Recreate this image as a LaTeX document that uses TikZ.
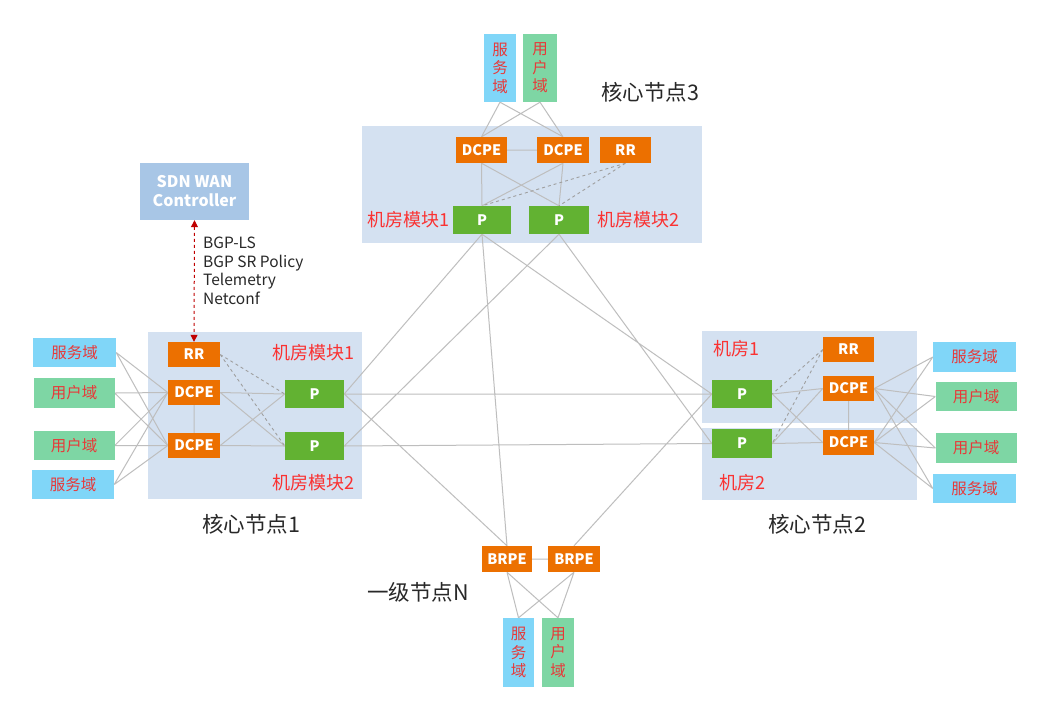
\documentclass[tikz,border=0pt]{standalone}
\usepackage{fontspec}
\setmainfont{Noto Sans CJK SC}
\usetikzlibrary{arrows.meta}
\definecolor{orangebox}{RGB}{236,112,0}
\definecolor{greenbox}{RGB}{98,178,50}
\definecolor{svcblue}{RGB}{128,214,248}
\definecolor{usrgreen}{RGB}{126,214,164}
\definecolor{domtext}{RGB}{232,56,56}
\definecolor{labred}{RGB}{250,50,50}
\definecolor{bgblue}{RGB}{212,225,241}
\definecolor{ctlblue}{RGB}{168,198,230}
\definecolor{linegray}{RGB}{190,190,190}
\definecolor{arrowred}{RGB}{192,0,0}
\definecolor{txtdark}{RGB}{40,40,40}
\pgfdeclarelayer{back}
\pgfdeclarelayer{lines}
\pgfsetlayers{back,lines,main}
\begin{document}
\begin{tikzpicture}[x=1pt,y=-1pt,
  dev/.style={inner sep=0pt,text=white,font=\bfseries\fontsize{14.5}{16}\selectfont},
  orng/.style={dev,fill=orangebox,minimum width=51pt,minimum height=26pt},
  pbox/.style={dev,fill=greenbox,minimum width=59pt,minimum height=28pt},
  svc/.style={inner sep=0pt,fill=svcblue,text=domtext,minimum width=82pt,minimum height=29pt,font=\fontsize{15.5}{17}\selectfont},
  usr/.style={svc,fill=usrgreen},
  vsvc/.style={svc,minimum width=32pt,minimum height=68pt,align=center,font=\fontsize{15.5}{18.5}\selectfont},
  vusr/.style={vsvc,fill=usrgreen},
  bg/.style={fill=bgblue,draw=none},
  redlab/.style={text=labred,inner sep=0pt,font=\fontsize{18}{20}\selectfont},
  biglab/.style={text=txtdark,inner sep=0pt,font=\fontsize{21.5}{23}\selectfont},
  ln/.style={draw=linegray,line width=1pt},
  dln/.style={draw=gray!75,line width=0.9pt,dashed}
]
\useasboundingbox (0,0) rectangle (1040,705);
\begin{pgfonlayer}{back}
\fill[white] (0,0) rectangle (1040,705);
\fill[bg] (362,126) rectangle (702,243);
\fill[bg] (148,332) rectangle (362,499);
\fill[bg] (702,331) rectangle (917,423);
\fill[bg] (702,428) rectangle (917,500);
\end{pgfonlayer}

% controller
\node[inner sep=0pt,fill=ctlblue,minimum width=109pt,minimum height=57pt,align=center,text=white,font=\bfseries\fontsize{16}{19}\selectfont] (ctl) at (194.5,191.5) {SDN WAN\\Controller};
\node[anchor=north west,inner sep=0pt,align=left,text=txtdark,font=\fontsize{15.5}{18.5}\selectfont] (proto) at (203,237) {BGP-LS\\BGP SR Policy\\Telemetry\\Netconf};

% core 3
\node[vsvc] (svcT) at (500,68) {服\\务\\域};
\node[vusr,minimum width=34pt] (usrT) at (540,68) {用\\户\\域};
\node[orng] (dc3a) at (481.5,150) {DCPE};
\node[orng,minimum width=52pt] (dc3b) at (563,150) {DCPE};
\node[orng] (rr3) at (625.5,150) {RR};
\node[pbox,minimum width=58pt] (p3a) at (482,220) {P};
\node[pbox,minimum width=60pt] (p3b) at (559,220) {P};
\node[biglab] (l3) at (650,92) {核心节点3};
\node[redlab] (l3a) at (408,220) {机房模块1};
\node[redlab] (l3b) at (638,220) {机房模块2};

% core 1
\node[orng,minimum width=52pt,minimum height=25pt] (rr1) at (194,354.5) {RR};
\node[orng,minimum width=52pt,minimum height=25pt] (dc1a) at (194,392.5) {DCPE};
\node[orng,minimum width=52pt,minimum height=25pt] (dc1b) at (194,445.5) {DCPE};
\node[pbox] (p1a) at (314.5,394) {P};
\node[pbox] (p1b) at (314.5,446) {P};
\node[redlab] (l1a) at (313,353) {机房模块1};
\node[redlab] (l1b) at (313,483) {机房模块2};
\node[biglab] (l1) at (251,524) {核心节点1};
\node[svc,minimum width=83pt] (ls1) at (74.5,352.5) {服务域};
\node[usr,minimum width=81pt,minimum height=30pt] (lu1) at (74,393) {用户域};
\node[usr,minimum width=81pt] (lu2) at (74,445.5) {用户域};
\node[svc] (ls2) at (73,484.5) {服务域};

% core 2
\node[pbox,minimum width=60pt] (p2a) at (742,394) {P};
\node[pbox,minimum width=60pt,minimum height=29pt] (p2b) at (742,443.5) {P};
\node[orng,minimum height=25pt] (rr2) at (848.5,349.5) {RR};
\node[orng,minimum height=25pt] (dc2a) at (848.5,388.5) {DCPE};
\node[orng,minimum height=25pt] (dc2b) at (848.5,442.5) {DCPE};
\node[redlab] (l2a) at (736,349) {机房1};
\node[redlab] (l2b) at (742,483) {机房2};
\node[biglab] (l2) at (817,524) {核心节点2};
\node[svc,minimum width=83pt,minimum height=30pt] (rs1) at (974.5,357) {服务域};
\node[usr,minimum width=81pt] (ru1) at (976,396.5) {用户域};
\node[usr,minimum width=81pt,minimum height=30pt] (ru2) at (976,448) {用户域};
\node[svc,minimum width=83pt] (rs2) at (974.5,488.5) {服务域};

% node N
\node[orng,minimum width=50pt] (br1) at (507,559) {BRPE};
\node[orng,minimum width=52pt] (br2) at (574,559) {BRPE};
\node[vsvc,minimum width=31pt,minimum height=69pt] (svcB) at (518.5,652.5) {服\\务\\域};
\node[vusr,minimum width=32pt,minimum height=69pt] (usrB) at (558,652.5) {用\\户\\域};
\node[biglab] (lN) at (418,592) {一级节点N};

\begin{pgfonlayer}{lines}
\path[ln] (svcT.south) -- (dc3a.north) (svcT.south) -- (dc3b.north)
          (usrT.south) -- (dc3a.north) (usrT.south) -- (dc3b.north)
          (dc3a) -- (dc3b)
          (dc3a.south) -- (p3a.north) (dc3a.south) -- (p3b.north)
          (dc3b.south) -- (p3a.north) (dc3b.south) -- (p3b.north);
\path[dln] (rr3.south) -- (p3a.north) (rr3.south) -- (p3b.north);

\foreach \d in {ls1,lu1,lu2,ls2}{
  \path[ln] (\d.east) -- (dc1a.west) (\d.east) -- (dc1b.west);
}
\path[ln] (dc1a) -- (dc1b)
          (dc1a.east) -- (p1a.west) (dc1a.east) -- (p1b.west)
          (dc1b.east) -- (p1a.west) (dc1b.east) -- (p1b.west);
\path[dln] (rr1.east) -- (p1a.west) (rr1.east) -- (p1b.west);

\foreach \d in {rs1,ru1,ru2,rs2}{
  \path[ln] (dc2a.east) -- (\d.west) (dc2b.east) -- (\d.west);
}
\path[ln] (dc2a) -- (dc2b)
          (p2a.east) -- (dc2a.west) (p2a.east) -- (dc2b.west)
          (p2b.east) -- (dc2a.west) (p2b.east) -- (dc2b.west);
\path[dln] (rr2.west) -- (p2a.east) (rr2.west) -- (p2b.east);

\path[ln] (p1a.east) -- (p2a.west) (p1b.east) -- (p2b.west)
          (p3a.south) -- (p1a.east) (p3a.south) -- (p2a.west) (p3a.south) -- (br1.north)
          (p3b.south) -- (p1b.east) (p3b.south) -- (p2b.west)
          (p1a.east) -- (br1.north) (p2a.west) -- (br2.north)
          (br1) -- (br2)
          (br1.south) -- (svcB.north) (br1.south) -- (usrB.north)
          (br2.south) -- (svcB.north) (br2.south) -- (usrB.north);

\draw[arrowred,line width=1pt,dashed,{Triangle[length=7pt,width=7pt]}-{Triangle[length=7pt,width=7pt]}] (ctl.south) -- (rr1.north);
\end{pgfonlayer}
\end{tikzpicture}
\end{document}
